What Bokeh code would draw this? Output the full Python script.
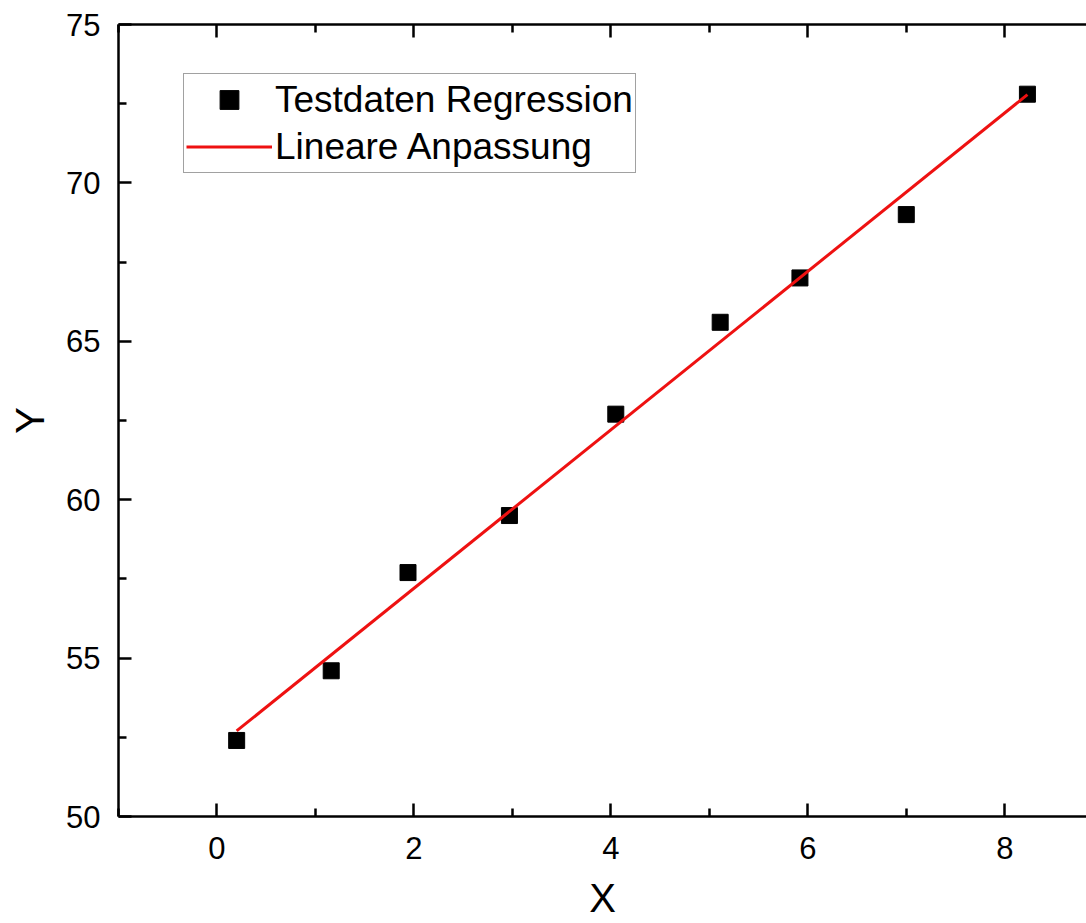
import numpy as np
from bokeh.plotting import figure
from bokeh.models import (LinearAxis, Legend, LegendItem, FixedTicker, Range1d,
                          CustomJSTickFormatter)
from bokeh.embed import file_html
from bokeh.resources import INLINE

# Data
x_data = [0.20, 1.16, 1.94, 2.97, 4.05, 5.11, 5.92, 7.00, 8.23]
y_data = [52.4, 54.6, 57.7, 59.5, 62.7, 65.6, 67.0, 69.0, 72.8]
x_ticks = [0, 2, 4, 6, 8]
x_minor = [-1, 1, 3, 5, 7]
y_ticks = [50, 55, 60, 65, 70, 75]
y_minor = [52.5, 57.5, 62.5, 67.5, 72.5]
series_names = ["Testdaten Regression", "Lineare Anpassung"]
x_label = "X"
y_label = "Y"

# Linear least squares fit of the data
slope, intercept = np.polyfit(x_data, y_data, 1)
fit_x = [min(x_data), max(x_data)]
fit_y = [intercept + slope * v for v in fit_x]

FONT = "Liberation Sans"

p = figure(width=1086, height=923, output_backend="svg", toolbar_location=None,
           x_range=Range1d(-1, 8.83), y_range=Range1d(50, 75),
           min_border_left=118, min_border_right=0, min_border_top=24,
           min_border_bottom=107)
p.xaxis.visible = False
p.yaxis.visible = False
p.grid.visible = False
p.outline_line_color = None
p.background_fill_color = "white"
p.border_fill_color = "white"

def style(ax):
    ax.axis_line_width = 2.5
    ax.axis_line_color = "black"
    ax.major_tick_in = 13
    ax.major_tick_out = 0
    ax.minor_tick_in = 8
    ax.minor_tick_out = 0
    ax.major_tick_line_width = 2.5
    ax.minor_tick_line_width = 2.5
    ax.major_tick_line_color = "black"
    ax.minor_tick_line_color = "black"
    ax.major_label_text_font = FONT
    ax.major_label_text_font_size = "31px"
    ax.major_label_text_color = "black"
    ax.axis_label_text_font = FONT
    ax.axis_label_text_font_size = "40px"
    ax.axis_label_text_font_style = "normal"
    ax.axis_label_text_color = "black"

xt = FixedTicker(ticks=x_ticks, minor_ticks=x_minor)
yt = FixedTicker(ticks=y_ticks, minor_ticks=y_minor)

xb = LinearAxis(ticker=xt, axis_label=x_label)
style(xb)
xb.major_label_standoff = 20
xb.axis_label_standoff = 14
p.add_layout(xb, "below")

yl = LinearAxis(ticker=yt, axis_label=y_label)
style(yl)
yl.major_label_standoff = 18
yl.axis_label_standoff = 11
p.add_layout(yl, "left")

xa = LinearAxis(ticker=xt, formatter=CustomJSTickFormatter(code="return ''"))
style(xa)
xa.major_label_standoff = 0
p.add_layout(xa, "above")

pts = p.scatter(x_data, y_data, marker="square", size=16, color="black")
ln = p.line(fit_x, fit_y, line_color="#ee1111", line_width=3)

legend = Legend(items=[LegendItem(label=series_names[0], renderers=[pts]),
                       LegendItem(label=series_names[1], renderers=[ln])],
                location=(65, 643))
legend.label_text_font = FONT
legend.label_text_font_size = "37px"
legend.label_text_color = "black"
legend.glyph_width = 86
legend.glyph_height = 47
legend.label_height = 47
legend.label_standoff = 3
legend.padding = 2
legend.spacing = 0
legend.margin = 0
legend.border_line_color = "#444444"
legend.border_line_width = 1.5
legend.background_fill_alpha = 1
p.add_layout(legend, "center")

open("out.html", "w").write(file_html(p, INLINE))
